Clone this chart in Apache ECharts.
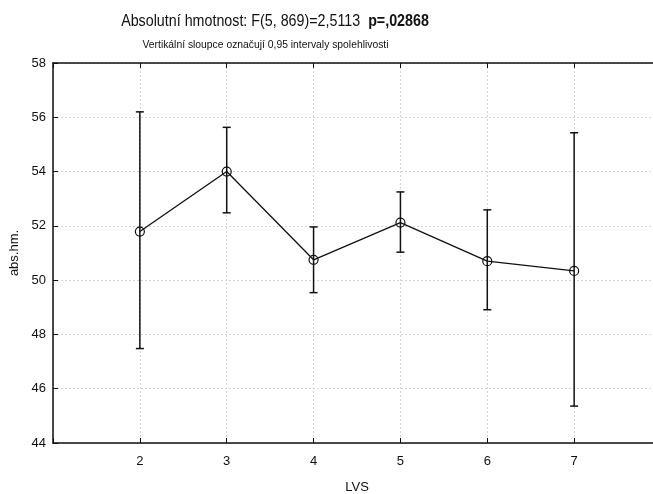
<!DOCTYPE html>
<html><head><meta charset="utf-8">
<script src="https://cdn.jsdelivr.net/npm/echarts@6/dist/echarts.min.js"></script>
<style>html,body{margin:0;padding:0;background:#fff}#c{width:653px;height:494px}</style>
</head><body><div id="c"></div>
<script>
const categories = [2, 3, 4, 5, 6, 7];
const means = [51.79, 54.0, 50.75, 52.12, 50.70, 50.34];
const upper = [56.2, 55.63, 51.96, 53.25, 52.59, 55.43];
const lower = [47.48, 52.48, 49.54, 51.03, 48.91, 45.36];
const yTicks = [44, 46, 48, 50, 52, 54, 56, 58];

const chart = echarts.init(document.getElementById('c'), null, {renderer: 'canvas'});
const font = 'Liberation Sans, Arial, sans-serif';
const gridLine = {show: true, lineStyle: {color: '#cfd8d8', type: [2, 2], width: 1}};
chart.setOption({
  animation: false,
  backgroundColor: '#fff',
  graphic: [{
    type: 'text', x: 275, y: 21, scaleX: 0.84,
    style: {
      text: 'Absolutní hmotnost: F(5, 869)=2,5113  {b|p=,02868}',
      align: 'center', verticalAlign: 'middle',
      fontFamily: font, fontSize: 17, fill: '#111',
      rich: {b: {fontFamily: font, fontSize: 17, fontWeight: 'bold', fill: '#111'}}
    }
  }, {
    type: 'text', x: 265.5, y: 45, scaleX: 0.94,
    style: {
      text: 'Vertikální sloupce označují 0,95 intervaly spolehlivosti',
      align: 'center', verticalAlign: 'middle',
      fontFamily: font, fontSize: 11, fill: '#111'
    }
  }],
  grid: {left: 53, top: 63, width: 608, height: 380, containLabel: false, outerBoundsMode: 'none'},
  xAxis: [{
    type: 'value', min: 1, max: 8, interval: 1,
    name: 'LVS', nameLocation: 'middle', nameGap: 38,
    nameTextStyle: {fontFamily: font, fontSize: 13, color: '#111'},
    axisLine: {show: true, onZero: false, lineStyle: {color: '#111', width: 1.5}},
    axisTick: {show: true, inside: true, length: 5, lineStyle: {color: '#111'}},
    axisLabel: {fontFamily: font, fontSize: 13, color: '#111', margin: 12,
      formatter: v => categories.indexOf(v) >= 0 ? String(v) : ''},
    splitLine: gridLine
  }, {
    type: 'value', position: 'top', min: 1, max: 8, interval: 1,
    axisLine: {show: true, onZero: false, lineStyle: {color: '#111', width: 1.5}},
    axisTick: {show: true, inside: true, length: 5, lineStyle: {color: '#111'}},
    axisLabel: {show: false}, splitLine: {show: false}
  }],
  yAxis: {
    type: 'value', min: 44, max: 58, interval: 2,
    name: 'abs.hm.', nameLocation: 'middle', nameGap: 32, nameRotate: 90,
    nameTextStyle: {fontFamily: font, fontSize: 13, color: '#111'},
    axisLine: {show: true, onZero: false, lineStyle: {color: '#111', width: 1.5}},
    axisTick: {show: true, inside: true, length: 5, lineStyle: {color: '#111'}},
    axisLabel: {fontFamily: font, fontSize: 13, color: '#111', margin: 7,
      formatter: v => yTicks.indexOf(v) >= 0 ? String(v) : ''},
    splitLine: gridLine
  },
  series: [{
    type: 'custom',
    data: categories.map((c, i) => [c, lower[i], upper[i]]),
    renderItem: function (params, api) {
      const x = api.value(0);
      const lo = api.coord([x, api.value(1)]);
      const hi = api.coord([x, api.value(2)]);
      const hw = 4;
      const st = {stroke: '#111', lineWidth: 1.5};
      return {type: 'group', children: [
        {type: 'line', shape: {x1: lo[0], y1: lo[1], x2: hi[0], y2: hi[1]}, style: st},
        {type: 'line', shape: {x1: hi[0] - hw, y1: hi[1], x2: hi[0] + hw, y2: hi[1]}, style: st},
        {type: 'line', shape: {x1: lo[0] - hw, y1: lo[1], x2: lo[0] + hw, y2: lo[1]}, style: st}
      ]};
    },
    z: 2
  }, {
    type: 'line',
    data: categories.map((c, i) => [c, means[i]]),
    symbol: 'circle', symbolSize: 9,
    itemStyle: {color: 'rgba(255,255,255,0)', borderColor: '#111', borderWidth: 1.2},
    lineStyle: {color: '#111', width: 1.3},
    z: 3
  }]
});
</script></body></html>
